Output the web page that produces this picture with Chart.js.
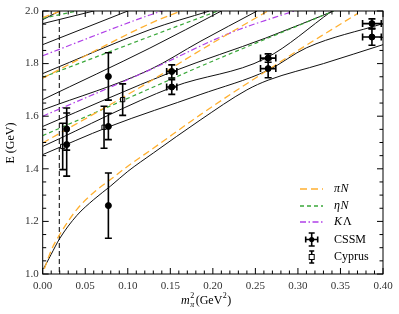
<!DOCTYPE html>
<html>
<head>
<meta charset="utf-8">
<script src="https://cdn.jsdelivr.net/npm/chart.js@4.4.1/dist/chart.umd.min.js"></script>
<style>
  html, body { margin: 0; padding: 0; background: #fff; }
  #wrap { width: 399px; height: 314px; }
</style>
</head>
<body>
<div id="wrap"><canvas id="c" width="399" height="314"></canvas></div>
<script>
// non-interacting levels (m_pi^2 in GeV^2, E in GeV)
const piN1_m = [0.002, 0.01, 0.02, 0.04, 0.06, 0.08, 0.10, 0.13, 0.185, 0.224, 0.262, 0.30, 0.34, 0.37];
const piN1_E = [1.02, 1.09, 1.15, 1.245, 1.31, 1.36, 1.41, 1.478, 1.605, 1.69, 1.77, 1.85, 1.93, 1.99];
const piN2_m = [0, 0.126, 0.185, 0.27];
const piN2_E = [1.498, 1.732, 1.85, 2.01];
const piN3_m = [0, 0.126, 0.17];
const piN3_E = [1.745, 1.952, 2.01];
const piN4_m = [0, 0.03];
const piN4_E = [1.975, 2.01];
const etaN1_m = [0, 0.126, 0.185, 0.342];
const etaN1_E = [1.526, 1.705, 1.789, 2.0];
const etaN2_m = [0, 0.126, 0.21];
const etaN2_E = [1.748, 1.903, 2.005];
const etaN3_m = [0, 0.04];
const etaN3_E = [1.972, 2.0];
const KL1_m = [0, 0.126, 0.22, 0.30];
const KL1_E = [1.60, 1.776, 1.916, 2.005];
const KL2_m = [0, 0.126, 0.145];
const KL2_E = [1.83, 1.985, 2.005];

// eigenvalues (black curves)
const eig1_m = [0.001, 0.01, 0.02, 0.04, 0.06, 0.08, 0.10, 0.13, 0.185, 0.24, 0.265, 0.33, 0.40];
const eig1_E = [1.02, 1.075, 1.135, 1.222, 1.283, 1.335, 1.39, 1.46, 1.585, 1.70, 1.737, 1.80, 1.872];
const eig2_m = [0, 0.078, 0.185, 0.265, 0.31, 0.40];
const eig2_E = [1.454, 1.56, 1.682, 1.775, 1.86, 1.952];
const eig3_m = [0, 0.153, 0.262, 0.34];
const eig3_E = [1.485, 1.711, 1.82, 2.0];
const eig4_m = [0, 0.153, 0.262, 0.342];
const eig4_E = [1.561, 1.77, 1.897, 2.0];
const eig5_m = [0, 0.126, 0.185, 0.252];
const eig5_E = [1.624, 1.777, 1.884, 2.0];
const eig6_m = [0, 0.126, 0.21];
const eig6_E = [1.663, 1.859, 2.0];
const eig7_m = [0, 0.126, 0.196];
const eig7_E = [1.762, 1.929, 2.0];
const eig8_m = [0, 0.1];
const eig8_E = [1.872, 2.0];
const eig9_m = [0, 0.06];
const eig9_E = [1.952, 2.0];
const eig10_m = [0, 0.02];
const eig10_E = [1.967, 2.0];

// lattice results
const cssm_m = [0.0282, 0.0282, 0.0772, 0.0772, 0.0772, 0.1517, 0.1517, 0.265, 0.265, 0.387, 0.387];
const cssm_E = [1.551, 1.492, 1.751, 1.561, 1.26, 1.770, 1.711, 1.821, 1.781, 1.952, 1.901];
const cssm_dE = [0.08, 0.12, 0.09, 0.05, 0.124, 0.025, 0.028, 0.016, 0.035, 0.018, 0.031];
const cssm_dm = [0.002, 0.002, 0.003, 0.003, 0.003, 0.006, 0.006, 0.009, 0.009, 0.011, 0.011];
const cyp_m = [0.0235, 0.0721, 0.094];
const cyp_E = [1.485, 1.558, 1.663];
const cyp_dE = [0.088, 0.08, 0.06];

const xTicks = [0.00, 0.05, 0.10, 0.15, 0.20, 0.25, 0.30, 0.35, 0.40];
const yTicks = [1.0, 1.2, 1.4, 1.6, 1.8, 2.0];
const physPoint = 0.0195;

const ORANGE = '#ffb030';
const GREEN = '#3aa83a';
const PURPLE = '#b040e8';
const FONT = '"Liberation Serif", "DejaVu Serif", serif';

function pts(ms, es) { return ms.map((m, i) => ({ x: m, y: es[i] })); }

function lineSet(ms, es, color, dash, w) {
  return {
    type: 'line', data: pts(ms, es), borderColor: color, borderWidth: w,
    borderDash: dash, pointRadius: 0, cubicInterpolationMode: 'monotone', fill: false, order: 5
  };
}

const black = [[eig1_m, eig1_E], [eig2_m, eig2_E], [eig3_m, eig3_E], [eig4_m, eig4_E], [eig5_m, eig5_E],
  [eig6_m, eig6_E], [eig7_m, eig7_E], [eig8_m, eig8_E], [eig9_m, eig9_E], [eig10_m, eig10_E]];

const datasets = [];
[[piN1_m, piN1_E], [piN2_m, piN2_E], [piN3_m, piN3_E], [piN4_m, piN4_E]].forEach(a =>
  datasets.push(lineSet(a[0], a[1], ORANGE, [7, 4], 1.3)));
[[etaN1_m, etaN1_E], [etaN2_m, etaN2_E], [etaN3_m, etaN3_E]].forEach(a =>
  datasets.push(lineSet(a[0], a[1], GREEN, [4, 3], 1.2)));
[[KL1_m, KL1_E], [KL2_m, KL2_E]].forEach(a =>
  datasets.push(lineSet(a[0], a[1], PURPLE, [6, 2.5, 1.5, 2.5], 1.2)));
black.forEach(a => datasets.push(lineSet(a[0], a[1], '#111', [], 1)));

datasets.push({
  type: 'scatter', data: pts(cssm_m, cssm_E), pointRadius: 3, pointBackgroundColor: '#000',
  pointBorderColor: '#000', pointStyle: 'circle', order: 0
});
datasets.push({
  type: 'scatter', data: pts(cyp_m, cyp_E), pointRadius: 3, pointBackgroundColor: '#fff',
  pointBorderColor: '#000', pointBorderWidth: 1, pointStyle: 'rect', order: 0
});

// error bars, dashed physical point, inward ticks, frame, legend, axis titles
const deco = {
  id: 'deco',
  beforeDatasetsDraw(chart) {
    const { ctx, chartArea: a, scales: { x, y } } = chart;
    ctx.save();
    ctx.strokeStyle = '#000';
    ctx.lineWidth = 1;
    ctx.setLineDash([5, 3]);
    ctx.beginPath();
    ctx.moveTo(x.getPixelForValue(physPoint), a.top);
    ctx.lineTo(x.getPixelForValue(physPoint), a.bottom);
    ctx.stroke();
    ctx.restore();
  },
  afterDatasetsDraw(chart) {
    const { ctx, chartArea: a, scales: { x, y } } = chart;
    ctx.save();
    ctx.strokeStyle = '#000';
    ctx.lineWidth = 1.6;
    const cap = 3.5;
    function vbar(px, y0, y1) {
      ctx.beginPath();
      ctx.moveTo(px, y0); ctx.lineTo(px, y1);
      ctx.moveTo(px - cap, y0); ctx.lineTo(px + cap, y0);
      ctx.moveTo(px - cap, y1); ctx.lineTo(px + cap, y1);
      ctx.stroke();
    }
    function hbar(x0, x1, py) {
      ctx.beginPath();
      ctx.moveTo(x0, py); ctx.lineTo(x1, py);
      ctx.moveTo(x0, py - cap); ctx.lineTo(x0, py + cap);
      ctx.moveTo(x1, py - cap); ctx.lineTo(x1, py + cap);
      ctx.stroke();
    }
    cssm_m.forEach((m, i) => {
      const px = x.getPixelForValue(m);
      vbar(px, y.getPixelForValue(cssm_E[i] + cssm_dE[i]), y.getPixelForValue(cssm_E[i] - cssm_dE[i]));
      if (cssm_dm[i] > 0.004)
        hbar(x.getPixelForValue(m - cssm_dm[i]), x.getPixelForValue(m + cssm_dm[i]), y.getPixelForValue(cssm_E[i]));
    });
    cyp_m.forEach((m, i) => {
      const px = x.getPixelForValue(m);
      vbar(px, y.getPixelForValue(cyp_E[i] + cyp_dE[i]), y.getPixelForValue(cyp_E[i] - cyp_dE[i]));
    });
    ctx.restore();
  },
  afterDraw(chart) {
    const { ctx, chartArea: a, scales: { x, y } } = chart;
    ctx.save();
    ctx.strokeStyle = '#000';
    ctx.lineWidth = 1;
    ctx.strokeRect(a.left, a.top, a.right - a.left, a.bottom - a.top);
    ctx.beginPath();
    for (let k = 0; k <= 40; k++) {
      const px = x.getPixelForValue(k * 0.01);
      const len = k % 5 === 0 ? 6 : 3.5;
      ctx.moveTo(px, a.bottom); ctx.lineTo(px, a.bottom - len);
      ctx.moveTo(px, a.top); ctx.lineTo(px, a.top + len);
    }
    for (let k = 0; k <= 20; k++) {
      const py = y.getPixelForValue(1 + k * 0.05);
      const len = k % 4 === 0 ? 6 : 3.5;
      ctx.moveTo(a.left, py); ctx.lineTo(a.left + len, py);
      ctx.moveTo(a.right, py); ctx.lineTo(a.right - len, py);
    }
    ctx.stroke();

    // legend
    const lx0 = 300, lx1 = 323, tx = 334;
    const rows = [
      { y: 189, c: ORANGE, d: [7, 4], t: 'N', g: 'π' },
      { y: 206, c: GREEN, d: [4, 3], t: 'N', g: 'η' },
      { y: 222, c: PURPLE, d: [6, 2.5, 1.5, 2.5], t: 'Λ', g: 'K' }
    ];
    ctx.font = 'italic 12px ' + FONT;
    ctx.textBaseline = 'middle';
    ctx.fillStyle = '#000';
    rows.forEach(r => {
      ctx.strokeStyle = r.c; ctx.lineWidth = 1.5; ctx.setLineDash(r.d);
      ctx.beginPath(); ctx.moveTo(lx0, r.y); ctx.lineTo(lx1, r.y); ctx.stroke();
      ctx.setLineDash([]);
      ctx.font = 'italic 12px ' + FONT;
      ctx.fillText(r.g, tx, r.y);
      const w = ctx.measureText(r.g).width;
      ctx.font = (r.t === 'N' ? 'italic ' : '') + '12px ' + FONT;
      ctx.fillText(r.t, tx + w + (r.t === 'N' ? 0.5 : 1), r.y);
    });
    ctx.font = '12px ' + FONT;
    ctx.strokeStyle = '#000'; ctx.lineWidth = 1.6;
    const mx = 311.7;
    ctx.beginPath();
    ctx.moveTo(mx, 233); ctx.lineTo(mx, 246);
    ctx.moveTo(mx - 3, 233); ctx.lineTo(mx + 3, 233);
    ctx.moveTo(mx - 3, 246); ctx.lineTo(mx + 3, 246);
    ctx.moveTo(mx - 6, 239.5); ctx.lineTo(mx + 6, 239.5);
    ctx.moveTo(mx - 6, 236.5); ctx.lineTo(mx - 6, 242.5);
    ctx.moveTo(mx + 6, 236.5); ctx.lineTo(mx + 6, 242.5);
    ctx.stroke();
    ctx.beginPath(); ctx.arc(mx, 239.5, 2.6, 0, Math.PI * 2); ctx.fillStyle = '#000'; ctx.fill();
    ctx.fillText('CSSM', tx, 240);
    ctx.beginPath();
    ctx.moveTo(mx, 251); ctx.lineTo(mx, 263);
    ctx.moveTo(mx - 2.5, 251); ctx.lineTo(mx + 2.5, 251);
    ctx.moveTo(mx - 2.5, 263); ctx.lineTo(mx + 2.5, 263);
    ctx.stroke();
    ctx.fillStyle = '#fff'; ctx.lineWidth = 1;
    ctx.fillRect(mx - 2.5, 254.5, 5, 5); ctx.strokeRect(mx - 2.5, 254.5, 5, 5);
    ctx.fillStyle = '#000';
    ctx.fillText('Cyprus', tx, 257);

    // axis titles
    ctx.font = '12px ' + FONT;
    ctx.save();
    ctx.translate(11, 143);
    ctx.rotate(-Math.PI / 2);
    ctx.textAlign = 'center';
    ctx.fillText('E (GeV)', 0, 0);
    ctx.restore();
    ctx.textBaseline = 'alphabetic';
    let cx = 181;
    ctx.font = 'italic 12px ' + FONT;
    ctx.fillText('m', cx, 304);
    cx += ctx.measureText('m').width;
    ctx.font = 'italic 8px ' + FONT;
    ctx.fillText('π', cx + 0.5, 307);
    ctx.font = '8px ' + FONT;
    ctx.fillText('2', cx + 0.5, 298);
    cx += 6;
    ctx.font = '12px ' + FONT;
    ctx.fillText('(GeV', cx, 304);
    cx += ctx.measureText('(GeV').width;
    ctx.font = '8px ' + FONT;
    ctx.fillText('2', cx + 0.5, 298);
    cx += 5;
    ctx.font = '12px ' + FONT;
    ctx.fillText(')', cx, 304);
    ctx.restore();
  }
};

new Chart(document.getElementById('c'), {
  data: { datasets },
  options: {
    responsive: false,
    animation: false,
    layout: { padding: { top: 11, right: 16, left: 0, bottom: 0 } },
    plugins: { legend: { display: false }, tooltip: { enabled: false } },
    scales: {
      x: {
        type: 'linear', min: 0, max: 0.4,
        grid: { display: false, drawTicks: false },
        border: { display: false },
        afterBuildTicks: s => { s.ticks = xTicks.map(v => ({ value: v })); },
        afterFit: s => { s.height = 40; },
        ticks: {
          color: '#333', padding: 6,
          font: { family: FONT, size: 11 },
          callback: v => v.toFixed(2)
        }
      },
      y: {
        type: 'linear', min: 1.0, max: 2.0,
        grid: { display: false, drawTicks: false },
        border: { display: false },
        afterBuildTicks: s => { s.ticks = yTicks.map(v => ({ value: v })); },
        afterFit: s => { s.width = 42.7; },
        ticks: {
          color: '#333', padding: 4,
          font: { family: FONT, size: 11 },
          callback: v => v.toFixed(1)
        }
      }
    }
  },
  plugins: [deco]
});
</script>
</body>
</html>
